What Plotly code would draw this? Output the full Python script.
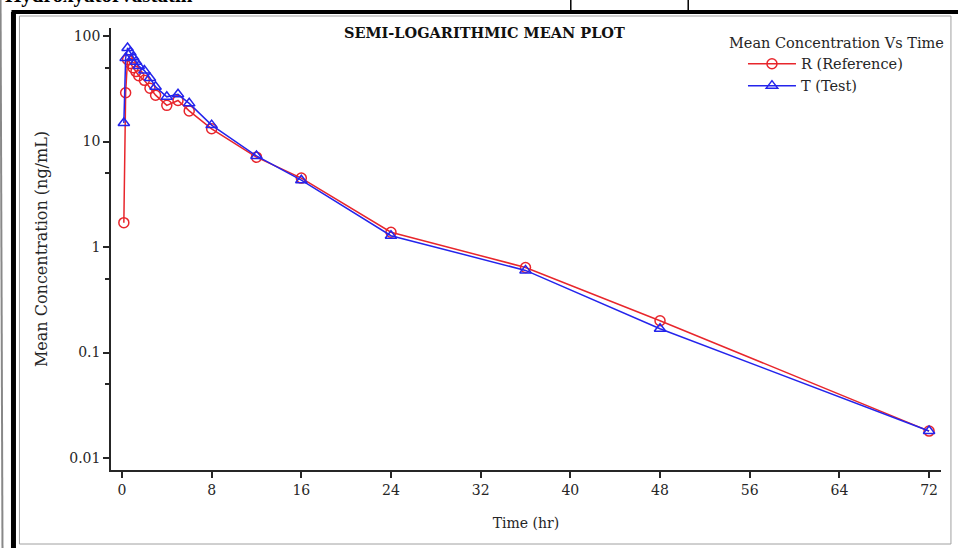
import plotly.graph_objects as go

# ---- data ----
time_hr = [0.17, 0.33, 0.5, 0.75, 1, 1.25, 1.5, 2, 2.5, 3, 4, 5, 6, 8, 12, 16, 24, 36, 48, 72]
ref_conc = [1.7, 29, 60, 55, 50, 46, 42, 38, 32, 27.5, 22, 24.5, 19.5, 13.2, 7.1, 4.5, 1.38, 0.64, 0.20, 0.018]
test_conc = [15, 62, 77, 70, 63, 57, 52, 47, 40, 33, 26.5, 28, 23, 14.3, 7.3, 4.3, 1.28, 0.60, 0.168, 0.018]
x_ticks = [0, 8, 16, 24, 32, 40, 48, 56, 64, 72]
y_ticks = [0.01, 0.1, 1, 10, 100]
y_ticktext = ["0.01", "0.1", "1", "10", "100"]
y_minor = [0.05, 0.5, 5, 50]

W, H = 958, 548
L, R, T, B = 111, 13, 28, 78
PW, PH = W - L - R, H - T - B
SERIF = "DejaVu Serif, Liberation Serif, serif"
TIMES = "Liberation Serif, Times New Roman, serif"
RED = "rgb(232,38,44)"
BLUE = "rgb(36,36,236)"
INK = "#262626"


def px(x):
    return (x - L) / PW


def py(y):
    return (H - B - y) / PH


fig = go.Figure()
fig.add_trace(go.Scatter(
    x=time_hr, y=ref_conc, mode="lines+markers", name="R (Reference)",
    line=dict(color=RED, width=1.5),
    marker=dict(symbol="circle-open", size=10, color=RED, line=dict(width=1.5)),
))
fig.add_trace(go.Scatter(
    x=time_hr, y=test_conc, mode="lines+markers", name="T (Test)",
    line=dict(color=BLUE, width=1.5),
    marker=dict(symbol="triangle-up-open", size=10, color=BLUE, line=dict(width=1.5)),
))

shapes = []
# document frame: thick black lines
shapes.append(dict(type="line", xref="paper", yref="paper", x0=px(13), x1=px(13), y0=py(12), y1=py(560),
                   line=dict(color="black", width=5)))
shapes.append(dict(type="line", xref="paper", yref="paper", x0=px(11), x1=px(970), y0=py(12), y1=py(12),
                   line=dict(color="black", width=4)))
# table dividers in top row
for xd in [573, 691]:
    shapes.append(dict(type="line", xref="paper", yref="paper", x0=px(xd), x1=px(xd), y0=py(-5), y1=py(10),
                       line=dict(color="black", width=1.5)))
shapes.append(dict(type="line", xref="paper", yref="paper", x0=px(0), x1=px(2), y0=py(-5), y1=py(560),
                   line=dict(color="#888", width=2)))
# inner light gray frame around the chart image
shapes.append(dict(type="rect", xref="paper", yref="paper", x0=px(19), x1=px(955), y0=py(16), y1=py(544),
                   line=dict(color="#a0a0a0", width=1), layer="below"))

annotations = [
    dict(text="<b>Hydroxyatorvastatin</b>", xref="paper", yref="paper", x=px(2), y=py(9), xanchor="left",
         yanchor="bottom", showarrow=False, font=dict(family=TIMES, size=21, color="black")),
    dict(text="<b>SEMI-LOGARITHMIC MEAN PLOT</b>", xref="paper", yref="paper", x=px(486), y=py(33),
         xanchor="center", yanchor="middle", showarrow=False, font=dict(family=SERIF, size=14.5, color="#111")),
]

fig.update_layout(
    width=W, height=H,
    margin=dict(l=L, r=R, t=T, b=B),
    paper_bgcolor="white", plot_bgcolor="white",
    font=dict(family=SERIF, size=13, color=INK),
    shapes=shapes, annotations=annotations,
    showlegend=True,
    legend=dict(
        x=px(950), y=py(29), xanchor="right", yanchor="top",
        bgcolor="rgba(0,0,0,0)",
        title=dict(text="Mean Concentration Vs Time", side="top center",
                   font=dict(family=SERIF, size=14.5, color=INK)),
        font=dict(family=SERIF, size=14.5, color=INK),
        itemwidth=48, tracegroupgap=0, indentation=16,
    ),
    xaxis=dict(
        range=[(L - 122) / 11.264, (L + PW - 122) / 11.264],
        tickmode="array", tickvals=x_ticks,
        ticks="outside", ticklen=6, tickwidth=1.5, tickcolor=INK,
        showline=True, linecolor=INK, linewidth=1.5,
        showgrid=False, zeroline=False,
        title=dict(text="Time (hr)", standoff=22, font=dict(family=SERIF, size=14, color=INK)),
        tickfont=dict(family=SERIF, size=14, color=INK),
    ),
    yaxis=dict(
        type="log",
        range=[2 - (H - B - 36) / 105.5, 2 + (36 - T) / 105.5],
        tickmode="array", tickvals=y_ticks, ticktext=y_ticktext,
        ticks="outside", ticklen=6, tickwidth=1.5, tickcolor=INK,
        minor=dict(tickmode="array", tickvals=y_minor, ticks="outside", ticklen=4,
                   tickwidth=1.5, tickcolor=INK, showgrid=False),
        showline=True, linecolor=INK, linewidth=1.5,
        showgrid=False, zeroline=False,
        title=dict(text="Mean Concentration (ng/mL)", standoff=18,
                   font=dict(family=SERIF, size=16, color=INK)),
        tickfont=dict(family=SERIF, size=14, color=INK),
    ),
)

fig.write_html("out.html")
